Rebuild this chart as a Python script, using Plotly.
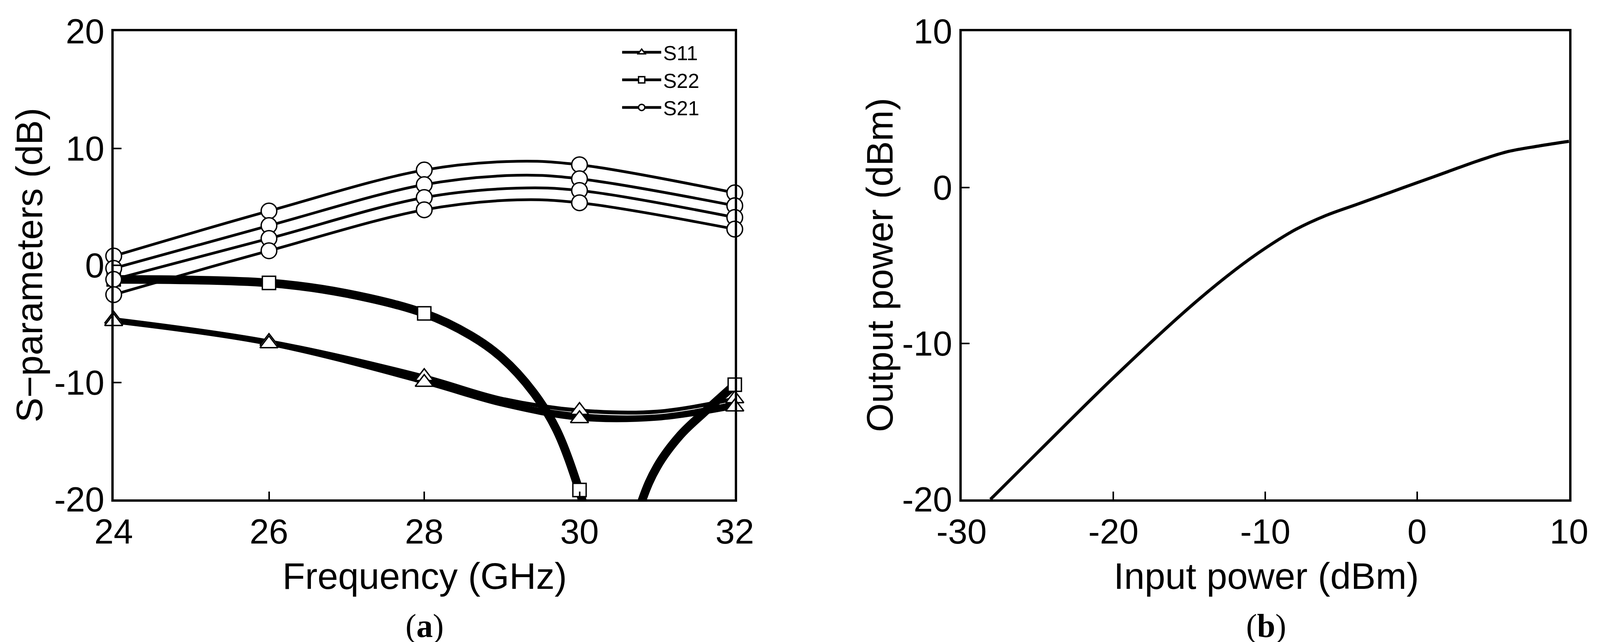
import plotly.graph_objects as go

# ---- data (a) ----
freq_mk = [24, 26, 28, 30, 32]
freq_s21 = [24, 26, 28, 29.2, 30, 32]
s21_a = [0.8, 4.65, 8.15, 8.9, 8.6, 6.2]
s21_b = [-0.25, 3.4, 6.9, 7.7, 7.4, 5.1]
s21_c = [-1.2, 2.3, 5.8, 6.6, 6.4, 4.1]
s21_d = [-2.5, 1.25, 4.75, 5.6, 5.35, 3.1]
s21_mk = [[0.8, 4.65, 8.15, 8.6, 6.2], [-0.25, 3.4, 6.9, 7.4, 5.1],
          [-1.2, 2.3, 5.8, 6.4, 4.1], [-2.5, 1.25, 4.75, 5.35, 3.1]]
freq_s11 = [24, 26, 28, 29, 30, 31, 32]
s11_a = [-4.6, -6.5, -9.5, -11.4, -12.4, -12.5, -11.4]
s11_b = [-4.7, -6.6, -9.8, -11.7, -12.8, -12.9, -11.8]
s11_c = [-4.8, -6.7, -10.0, -11.9, -13.1, -13.1, -12.1]
s11_mk = [[-4.6, -6.5, -9.5, -12.4, -11.4], [-4.8, -6.7, -10.0, -13.1, -12.1]]
freq_s22 = [24, 26, 27, 28, 28.6, 29, 29.4, 29.7, 30, 30.2, 30.5, 30.8, 31.0, 31.3, 31.6, 32]
s22_a = [-1.2, -1.5, -2.4, -4.1, -6.0, -7.9, -10.8, -14.0, -19.3, -24, -28, -20.2, -17.2, -14.5, -12.6, -10.2]
s22_mk_x = [24, 26, 28, 30, 32]
s22_mk = [-1.2, -1.5, -4.1, -19.2, -10.2]
xa_ticks = [24, 26, 28, 30, 32]
ya_ticks = [-20, -10, 0, 10, 20]

# ---- data (b) ----
pin = [-28.1, -25, -20, -15, -12, -10, -8, -6, -4, -2, 0, 2, 4, 6, 8, 10]
pout = [-20, -17.0, -12.2, -7.7, -5.3, -3.9, -2.7, -1.8, -1.1, -0.4, 0.3, 1.0, 1.7, 2.3, 2.65, 2.95]
xb_ticks = [-30, -20, -10, 0, 10]
yb_ticks = [-20, -10, 0, 10]

def lab(v):
    return [str(t) for t in v]

fig = go.Figure()
LW = 7
MS = 40
mk = dict(size=MS, color="white", line=dict(color="black", width=3.5))

for ys in [s21_a, s21_b, s21_c, s21_d]:
    fig.add_trace(go.Scatter(x=freq_s21, y=ys, mode="lines", line=dict(color="black", width=LW, shape="spline"),
                             showlegend=False, xaxis="x", yaxis="y"))
for ys in [s11_a, s11_b, s11_c]:
    fig.add_trace(go.Scatter(x=freq_s11, y=ys, mode="lines", line=dict(color="black", width=LW + 3, shape="spline"),
                             showlegend=False, xaxis="x", yaxis="y"))
fig.add_trace(go.Scatter(x=freq_s22, y=s22_a, mode="lines", line=dict(color="black", width=22, shape="spline"),
                         showlegend=False, xaxis="x", yaxis="y"))
for ys in s11_mk:
    fig.add_trace(go.Scatter(x=freq_mk, y=ys, mode="markers", marker=dict(symbol="triangle-up", **mk),
                             showlegend=False, cliponaxis=False, xaxis="x", yaxis="y"))
fig.add_trace(go.Scatter(x=s22_mk_x, y=s22_mk, mode="markers", marker=dict(symbol="square", **dict(mk, size=34)),
                         showlegend=False, cliponaxis=False, xaxis="x", yaxis="y"))
for ys in s21_mk:
    fig.add_trace(go.Scatter(x=freq_mk, y=ys, mode="markers", marker=dict(symbol="circle", **mk),
                             showlegend=False, cliponaxis=False, xaxis="x", yaxis="y"))

for name, sym in [("S11", "triangle-up"), ("S22", "square"), ("S21", "circle")]:
    fig.add_trace(go.Scatter(x=[None], y=[None], mode="lines+markers", name=name,
                             line=dict(color="black", width=LW), marker=dict(symbol=sym, size=36, color="white",
                             line=dict(color="black", width=3.5)), xaxis="x", yaxis="y"))

fig.add_trace(go.Scatter(x=pin, y=pout, mode="lines", line=dict(color="black", width=8, shape="spline"),
                         showlegend=False, xaxis="x2", yaxis="y2"))

FAM = "Liberation Sans, Arial, sans-serif"
font = dict(family=FAM, size=95, color="black")
tfont = dict(family=FAM, size=89, color="black")
ax = dict(showline=True, linecolor="black", linewidth=6, mirror=True, ticks="inside", ticklen=20,
          tickwidth=4, tickcolor="black", showgrid=False, zeroline=False, tickfont=tfont,
          automargin=False, ticklabelstandoff=0)

def ann(text, x, y, angle=0, f=font):
    return dict(text=text, x=x, y=y, xref="paper", yref="paper", showarrow=False, textangle=angle,
                xanchor="center", yanchor="middle", font=f)

cap = dict(family="Liberation Serif, Times New Roman, serif", size=84, color="black")

fig.update_layout(
    width=4103, height=1643, paper_bgcolor="white", plot_bgcolor="white",
    margin=dict(l=0, r=0, t=0, b=0), font=font,
    xaxis=dict(ax, domain=[0.069, 0.4565], range=[24, 32], tickvals=xa_ticks, ticktext=lab(xa_ticks)),
    yaxis=dict(ax, domain=[0.227, 0.956], range=[-20, 20], tickvals=ya_ticks, ticktext=lab(ya_ticks)),
    xaxis2=dict(ax, domain=[0.598, 0.977], range=[-30, 10], tickvals=xb_ticks, ticktext=lab(xb_ticks), anchor="y2"),
    yaxis2=dict(ax, domain=[0.227, 0.956], range=[-20, 10], tickvals=yb_ticks, ticktext=lab(yb_ticks), anchor="x2"),
    legend=dict(x=0.385, y=0.948, xanchor="left", yanchor="top", bgcolor="rgba(0,0,0,0)",
                font=dict(family=FAM, size=52), itemwidth=100, tracegroupgap=0),
    annotations=[
        ann("Frequency (GHz)", 0.263, 0.108),
        ann("Input power (dBm)", 0.788, 0.108),
        ann("S−parameters (dB)", 0.0165, 0.592, -90),
        ann("Output power (dBm)", 0.547, 0.592, -90),
        ann("(<b>a</b>)", 0.263, 0.03, f=cap),
        ann("(<b>b</b>)", 0.788, 0.03, f=cap),
    ],
)
fig.write_html("out.html")
